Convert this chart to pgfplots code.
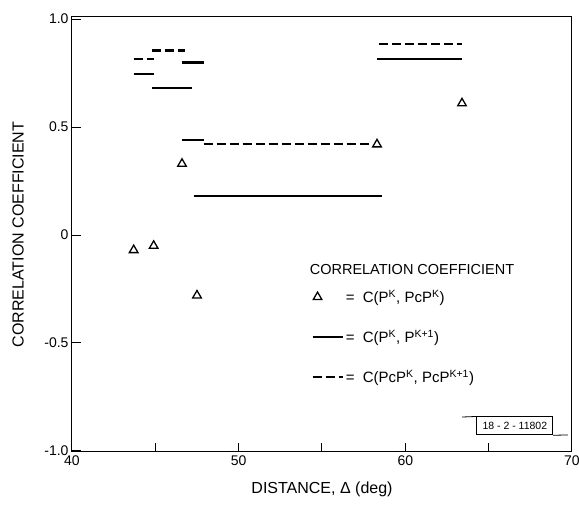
\documentclass[border=0pt]{standalone}
\usepackage{fontspec}
\setmainfont{Liberation Sans}
\usepackage{pgfplots}
\pgfplotsset{compat=1.18}
\begin{document}
\begin{tikzpicture}
\useasboundingbox (-72pt,-58pt) rectangle (507pt,452pt);
\begin{axis}[
  at={(0pt,0pt)}, anchor=south west,
  scale only axis, width=500pt, height=435pt,
  xmin=40, xmax=70, ymin=-1.005, ymax=1.01,
  axis line style={line width=1pt},
  every tick/.style={line width=1pt, black},
  major tick length=9pt,
  tick align=inside,
  xtick pos=left, ytick pos=left,
  xtick={40,45,50,55,60,65,70}, xticklabels={40,,50,,60,,70},
  ytick={-1,-0.5,0,0.5,1}, yticklabels={-1.0,-0.5,0,0.5,1.0},
  tick label style={font=\fontsize{14}{16}\selectfont},
  every axis y label/.style={at={(axis description cs:-0.108,0.5)}, rotate=90, anchor=center, font=\fontsize{16}{18}\selectfont},
  every axis x label/.style={at={(axis description cs:0.5,-0.087)}, anchor=center, font=\fontsize{16}{18}\selectfont},
  xlabel={DISTANCE, Δ (deg)},
  ylabel={CORRELATION COEFFICIENT},
  legend style={at={(axis cs:54.35,-0.245)}, anchor=north west, draw=none, fill=none,
    inner sep=0pt, row sep=22pt, font=\fontsize{15}{17}\selectfont,
    /tikz/every even column/.style={column sep=5pt}},
  legend cell align=left,
]
% triangles
\addplot[only marks, mark=triangle, mark size=5pt, mark options={line width=1.3pt, black},
  legend image code/.code={\draw plot coordinates {(5pt,0pt)};}]
  coordinates {(43.7,-0.07) (44.9,-0.05) (46.6,0.33) (47.5,-0.28) (58.3,0.42) (63.4,0.61)};
\addlegendentry{=\ \ C(P\textsuperscript{K}, PcP\textsuperscript{K})}
% solid segments
\addplot[black, line width=2.4pt, legend image code/.code={\draw (0pt,0pt) -- (30pt,0pt);}]
  coordinates {(47.3,0.18) (58.6,0.18)};
\addlegendentry{=\ \ C(P\textsuperscript{K}, P\textsuperscript{K+1})}
\addplot[black, line width=2.2pt, dash pattern=on 9pt off 4pt, legend image code/.code={\draw (0pt,0pt) -- (30pt,0pt);}]
  coordinates {(47.9,0.42) (58.0,0.42)};
\addlegendentry{=\ \ C(PcP\textsuperscript{K}, PcP\textsuperscript{K+1})}
\addplot[black, line width=2.4pt, forget plot] coordinates {(43.7,0.745) (44.95,0.745)};
\addplot[black, line width=2.4pt, forget plot] coordinates {(44.8,0.68) (47.2,0.68)};
\addplot[black, line width=2.4pt, forget plot] coordinates {(46.6,0.80) (47.9,0.80)};
\addplot[black, line width=2.4pt, forget plot] coordinates {(46.6,0.44) (47.9,0.44)};
\addplot[black, line width=2.4pt, forget plot] coordinates {(58.3,0.815) (63.4,0.815)};
% dashed segments
\addplot[black, line width=2.2pt, dash pattern=on 9pt off 4pt, forget plot] coordinates {(43.7,0.815) (44.9,0.815)};
\addplot[black, line width=2.2pt, dash pattern=on 9pt off 4pt, forget plot] coordinates {(44.8,0.855) (46.8,0.855)};
\addplot[black, line width=2.2pt, dash pattern=on 9pt off 4pt, forget plot] coordinates {(58.4,0.885) (63.4,0.885)};
% legend title
\node[font=\fontsize{14.5}{16}\selectfont] at (axis cs:60.4,-0.162) {CORRELATION COEFFICIENT};
% stamp
\node[draw, line width=0.8pt, minimum width=76pt, minimum height=18pt, inner sep=1pt,
  font=\fontsize{10.5}{11}\selectfont] (stamp) at (axis cs:66.57,-0.884) {18 - 2 - 11802};
\draw[line width=0.8pt] (axis cs:63.4,-0.843) -- (stamp.north west);
\draw[line width=0.8pt] (stamp.south east) -- (axis cs:69.75,-0.926);
\end{axis}
\end{tikzpicture}
\end{document}
